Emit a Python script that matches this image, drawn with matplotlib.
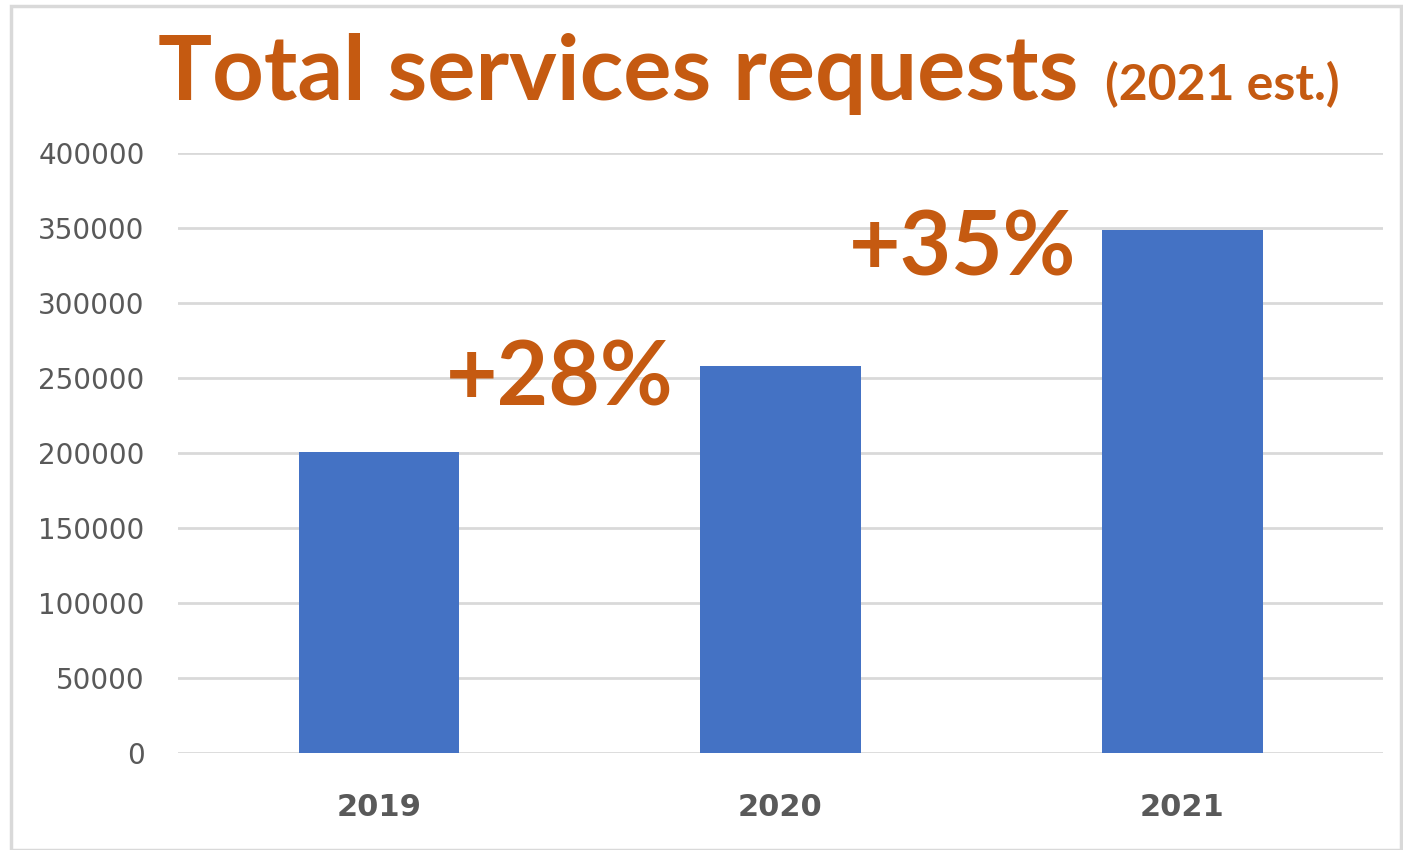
import matplotlib.pyplot as plt
from matplotlib.patches import Rectangle

# Données
years = ['2019', '2020', '2021']
requests = [201000, 258000, 349000]
y_ticks = [0, 50000, 100000, 150000, 200000, 250000, 300000, 350000, 400000]

orange = '#C55A11'
blue = '#4472C4'
grey_text = '#595959'
grid_col = '#D9D9D9'

fig = plt.figure(figsize=(14.03, 8.5), dpi=100)
ax = fig.add_axes([178 / 1403, 97 / 850, 1205 / 1403, 600 / 850])

x = range(len(years))
ax.bar(x, requests, width=0.4, color=blue, zorder=3)

ax.set_xlim(-0.5, len(years) - 0.5)
ax.set_ylim(0, 400000)
ax.set_yticks(y_ticks)
ax.set_yticklabels([str(v) for v in y_ticks], fontsize=20, color=grey_text)
ax.set_xticks(list(x))
ax.set_xticklabels(years, fontsize=22, fontweight='bold', color=grey_text)
ax.tick_params(axis='y', length=0, pad=24)
ax.tick_params(axis='x', length=0, pad=29)
ax.grid(axis='y', color=grid_col, linewidth=2, zorder=0)
for s in ax.spines.values():
    s.set_visible(False)

# Annotations de croissance
growth = [round((requests[i] / requests[i - 1] - 1) * 100) for i in range(1, len(requests))]
label_pos = [(0.451, 232000), (1.454, 318000)]
for g, (lx, ly) in zip(growth, label_pos):
    ax.text(lx, ly, f'+{g}%', fontsize=64, fontweight='bold', color=orange,
            family='Lato', ha='center', va='baseline', zorder=4)

# Titre
fig.text(158 / 1403, 1 - 100 / 850, 'Total services requests', fontsize=65,
         fontweight='bold', color=orange, family='Lato', ha='left', va='baseline')
fig.text(1340 / 1403, 1 - 100 / 850, '(2021 est.)', fontsize=36,
         fontweight='bold', color=orange, family='Lato', ha='right', va='baseline')

# Cadre
fig.patches.append(Rectangle((11 / 1403, 0), 1390 / 1403, 1 - 6 / 850,
                             transform=fig.transFigure, fill=False,
                             edgecolor='#D9D9D9', linewidth=2.5))

fig.savefig('out.png', dpi=100)
